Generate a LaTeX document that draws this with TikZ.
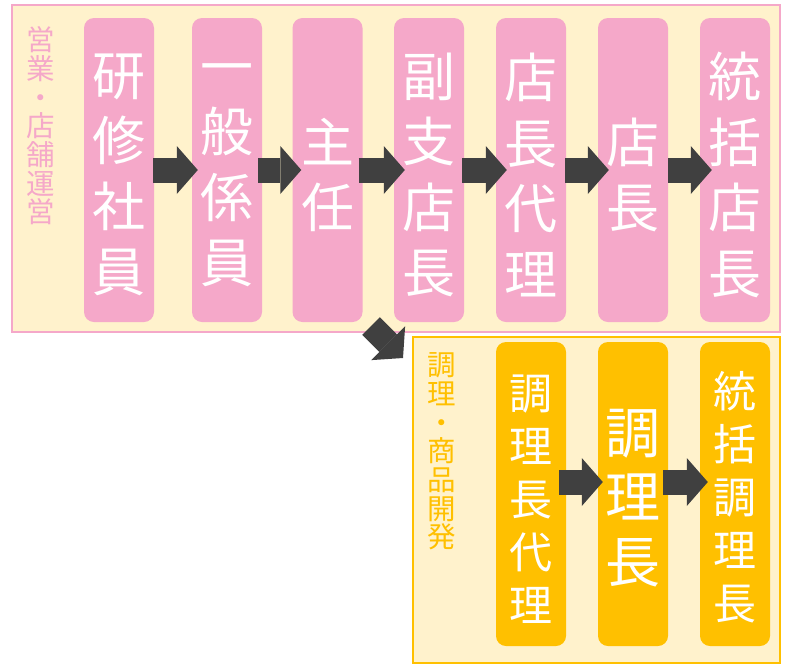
\documentclass[tikz,border=0pt]{standalone}
\usepackage{fontspec}
\newfontfamily\cjk{Noto Sans CJK JP}
\usetikzlibrary{arrows.meta}
\definecolor{bgyellow}{HTML}{FFF2CC}
\definecolor{pinkc}{HTML}{F5A8C9}
\definecolor{orangec}{HTML}{FFC000}
\definecolor{arrowgray}{HTML}{404040}
\begin{document}
\begin{tikzpicture}[x=1pt,y=-1pt,
  panelbox/.style={fill=bgyellow, line width=2pt, inner sep=0pt},
  stepbox/.style={rounded corners=10pt, minimum width=70pt, minimum height=304pt, inner sep=0pt},
  pinkbox/.style={stepbox, fill=pinkc},
  orangebox/.style={stepbox, fill=orangec},
  bigtext/.style={text=white, align=center, inner sep=0pt, font=\cjk\fontsize{53}{65.5}\selectfont},
  midtext/.style={text=white, align=center, inner sep=0pt, font=\cjk\fontsize{43}{53}\selectfont},
  largetext/.style={text=white, align=center, inner sep=0pt, font=\cjk\fontsize{55}{64.5}\selectfont},
  sidelabel/.style={align=center, inner sep=0pt, font=\cjk\fontsize{28.5}{28.7}\selectfont},
  flowarrow/.style={draw=arrowgray, line width=25pt, -{Triangle[length=21pt, width=48pt, line width=0pt]}},
]
\path[fill=white, use as bounding box] (0,0) rectangle (797,667);

% panels
\node[panelbox, draw=pinkc, minimum width=768pt, minimum height=327pt] (toppanel) at (396,168.5) {};
\node[panelbox, draw=orangec, minimum width=367pt, minimum height=326pt] (botpanel) at (596.5,500) {};

% top boxes
\node[pinkbox] (b1) at (119,170) {};
\node[pinkbox] (b2) at (227,170) {};
\node[pinkbox] (b3) at (327.5,170) {};
\node[pinkbox] (b4) at (429,170) {};
\node[pinkbox] (b5) at (531,170) {};
\node[pinkbox] (b6) at (633,170) {};
\node[pinkbox] (b7) at (735,170) {};

% bottom boxes
\node[orangebox] (c1) at (531,494) {};
\node[orangebox] (c2) at (633,494) {};
\node[orangebox] (c3) at (735,494) {};

% arrows top
\draw[flowarrow, shorten <=-1pt, shorten >=-6pt] (b1.east) -- (b2.west);
\draw[flowarrow, shorten <=-4pt, shorten >=-9pt] (b2.east) -- (b3.west);
\draw[flowarrow, shorten <=-4pt, shorten >=-11pt] (b3.east) -- (b4.west);
\draw[flowarrow, shorten <=-2pt, shorten >=-11pt] (b4.east) -- (b5.west);
\draw[flowarrow, shorten <=-1pt, shorten >=-11pt] (b5.east) -- (b6.west);
\draw[flowarrow, shorten <=0pt, shorten >=-12pt] (b6.east) -- (b7.west);

% arrows bottom
\draw[flowarrow, shorten <=-7pt, shorten >=-5pt] ([yshift=12pt]c1.east) -- ([yshift=12pt]c2.west);
\draw[flowarrow, shorten <=-5pt, shorten >=-8pt] ([yshift=12pt]c2.east) -- ([yshift=12pt]c3.west);

% diagonal arrow
\coordinate (dtail) at (371,326);
\coordinate (dtip) at (403,358);
\draw[flowarrow] (dtail) -- (dtip);

% texts
\node[bigtext] (t1) at (119,175) {研\\修\\社\\員};
\node[bigtext] (t2) at (227,175) {一\\般\\係\\員};
\node[bigtext] (t3) at (327.5,175) {主\\任};
\node[bigtext] (t4) at (429,175) {副\\支\\店\\長};
\node[bigtext] (t5) at (531,175) {店\\長\\代\\理};
\node[bigtext] (t6) at (633,175) {店\\長};
\node[bigtext] (t7) at (735,175) {統\\括\\店\\長};

\node[midtext] (u1) at (531,499.5) {調\\理\\長\\代\\理};
\node[largetext] (u2) at (633,498) {調\\理\\長};
\node[midtext] (u3) at (735,497.5) {統\\括\\調\\理\\長};

\node[sidelabel, text=pinkc] (l1) at (41,126) {営\\業\\・\\店\\舗\\運\\営};
\node[sidelabel, text=orangec] (l2) at (442,451.5) {調\\理\\・\\商\\品\\開\\発};
\end{tikzpicture}
\end{document}
